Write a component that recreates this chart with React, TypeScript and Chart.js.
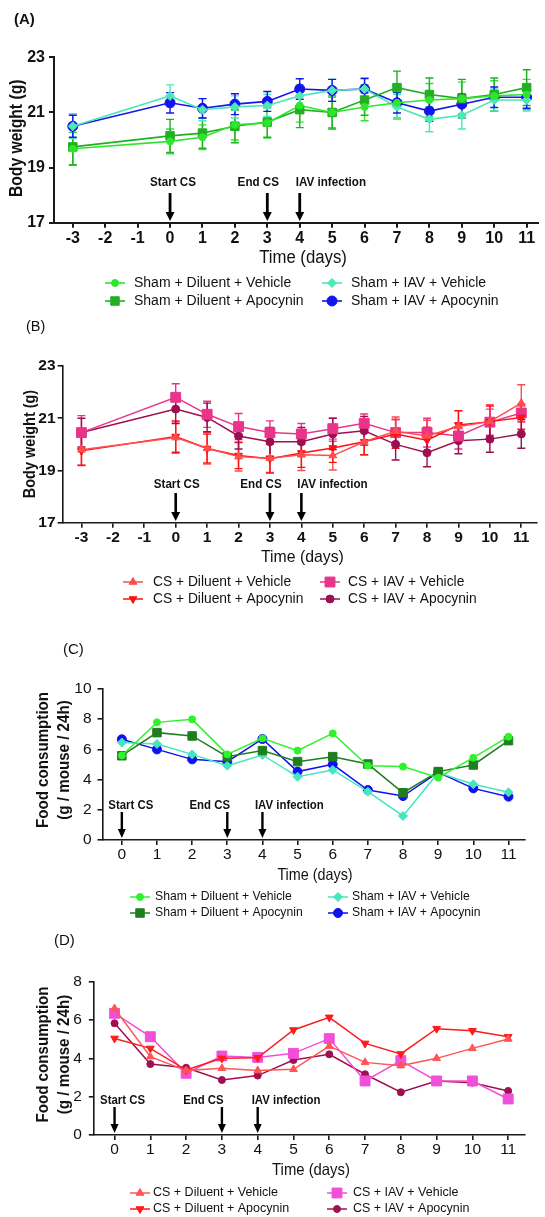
import React, { useEffect, useRef } from 'react';
import { Chart, registerables } from 'chart.js';
import { drawPoint } from 'chart.js/helpers';

Chart.register(...registerables);

// ---------------- DATA ----------------
const daysAB = [-3, 0, 1, 2, 3, 4, 5, 6, 7, 8, 9, 10, 11];
const daysCD = [0, 1, 2, 3, 4, 5, 6, 7, 8, 9, 10, 11];
const xTicksAB = [-3, -2, -1, 0, 1, 2, 3, 4, 5, 6, 7, 8, 9, 10, 11];
const xTicksCD = [0, 1, 2, 3, 4, 5, 6, 7, 8, 9, 10, 11];
const yTicksAB = [17, 19, 21, 23];
const yTicksC = [0, 2, 4, 6, 8, 10];
const yTicksD = [0, 2, 4, 6, 8];

const shamLabels = ['Sham + Diluent + Vehicle', 'Sham + Diluent + Apocynin', 'Sham + IAV + Vehicle', 'Sham + IAV + Apocynin'];
const csLabels = ['CS + Diluent + Vehicle', 'CS + Diluent + Apocynin', 'CS + IAV + Vehicle', 'CS + IAV + Apocynin'];
const eventDays = [0, 3, 4];
const eventLabels = ['Start CS', 'End CS', 'IAV infection'];

// Panel A: body weight, Sham groups (g)
const aDilVeh = [19.68, 19.95, 20.1, 20.55, 20.62, 21.25, 21.0, 21.2, 21.35, 21.45, 21.5, 21.6, 21.65];
const aDilApo = [19.75, 20.15, 20.25, 20.5, 20.65, 21.1, 21.0, 21.45, 21.9, 21.65, 21.5, 21.65, 21.9];
const aIavVeh = [20.5, 21.6, 21.1, 21.2, 21.25, 21.6, 21.8, 21.85, 21.2, 20.75, 20.9, 21.45, 21.45];
const aIavApo = [20.5, 21.35, 21.15, 21.3, 21.4, 21.85, 21.8, 21.85, 21.35, 21.05, 21.3, 21.55, 21.55];
const aErrDilVeh = [0.6, 0.45, 0.45, 0.55, 0.55, 0.6, 0.55, 0.5, 0.55, 0.6, 0.6, 0.55, 0.55];
const aErrDilApo = [0.65, 0.6, 0.55, 0.6, 0.55, 0.65, 0.6, 0.55, 0.6, 0.6, 0.7, 0.6, 0.65];
const aErrIavVeh = [0.45, 0.4, 0.4, 0.4, 0.4, 0.4, 0.4, 0.4, 0.45, 0.45, 0.5, 0.4, 0.4];
const aErrIavApo = [0.4, 0.37, 0.35, 0.38, 0.36, 0.37, 0.4, 0.38, 0.37, 0.37, 0.37, 0.37, 0.4];

// Panel B: body weight, CS groups (g)
const bDilVeh = [19.79, 20.26, 19.85, 19.53, 19.47, 19.6, 19.57, 20.1, 20.5, 20.32, 20.68, 20.87, 21.58];
const bDilApo = [19.75, 20.3, 19.84, 19.57, 19.45, 19.67, 19.86, 20.1, 20.4, 20.16, 20.74, 20.87, 21.03];
const bIavVeh = [20.45, 21.8, 21.15, 20.68, 20.45, 20.4, 20.6, 20.81, 20.45, 20.45, 20.32, 20.85, 21.2];
const bIavApo = [20.45, 21.35, 21.03, 20.32, 20.1, 20.1, 20.4, 20.52, 20.0, 19.68, 20.14, 20.2, 20.4];
const bErrDilVeh = [0.6, 0.6, 0.6, 0.55, 0.55, 0.6, 0.55, 0.5, 0.55, 0.6, 0.6, 0.65, 0.7];
const bErrDilApo = [0.55, 0.6, 0.55, 0.5, 0.55, 0.55, 0.55, 0.5, 0.55, 0.5, 0.55, 0.6, 0.45];
const bErrIavVeh = [0.65, 0.52, 0.5, 0.5, 0.45, 0.4, 0.4, 0.35, 0.5, 0.55, 0.5, 0.5, 0.35];
const bErrIavApo = [0.55, 0.55, 0.55, 0.5, 0.55, 0.55, 0.6, 0.55, 0.6, 0.54, 0.5, 0.5, 0.55];

// Panel C: food consumption, Sham groups (g / mouse / 24h)
const cDilVeh = [5.6, 7.79, 7.99, 5.67, 6.73, 5.92, 7.06, 4.92, 4.86, 4.13, 5.45, 6.84];
const cDilApo = [5.58, 7.11, 6.89, 5.52, 5.92, 5.19, 5.52, 5.03, 3.13, 4.53, 4.97, 6.58];
const cIavVeh = [6.45, 6.36, 5.67, 4.92, 5.63, 4.19, 4.64, 3.2, 1.59, 4.46, 3.69, 3.16];
const cIavApo = [6.67, 6.0, 5.34, 5.19, 6.69, 4.53, 5.01, 3.31, 2.91, 4.48, 3.42, 2.87];

// Panel D: food consumption, CS groups (g / mouse / 24h)
const dDilVeh = [6.6, 4.09, 3.36, 3.48, 3.36, 3.43, 4.64, 3.79, 3.62, 4.0, 4.52, 5.01];
const dDilApo = [5.04, 4.52, 3.39, 4.0, 4.03, 5.48, 6.14, 4.78, 4.23, 5.55, 5.44, 5.13];
const dIavVeh = [6.35, 5.13, 3.22, 4.12, 4.05, 4.26, 5.03, 2.82, 3.88, 2.82, 2.82, 1.88];
const dIavApo = [5.83, 3.7, 3.51, 2.87, 3.1, 3.91, 4.21, 3.17, 2.23, 2.82, 2.73, 2.3];

// ---------------- STYLE / LAYOUT ----------------
const W = 545;
const SANS = "'Liberation Sans', Arial, sans-serif";
const AXIS = '#1a1a1a';

type SeriesStyle = { color: string; pointStyle: string; radius: number; rotation?: number; lineWidth: number };
type PanelCfg = {
  top: number; height: number;
  area: { left: number; right: number; top: number; bottom: number };
  xMin: number; xMax: number; xTicks: number[];
  yMin: number; yMax: number; yTicks: number[];
  days: number[]; values: number[][]; errors?: number[][];
  labels: string[]; styles: SeriesStyle[];
  tickFont: { family: string; size: number; weight: string };
  xTickPad: number; yTickPad: number; axisWidth: number;
  xTitle: string; xTitleX: number; xTitleY: number; xTitleFont: string; xTitleSx: number;
  yTitle: string[]; yTitleX: number[]; yTitleY: number; yTitleFont: string; yTitleSx: number;
  panel: string; panelX: number; panelY: number; panelFont: string;
  legendRows: number[]; legendMarkerX: number[]; legendTextX: number[]; legendFont: string;
  evTextY: number; evArrowTop: number; evArrowBottom: number; evDx: number[]; evAlign: CanvasTextAlign[]; evFont: string; evSx: number;
  arrowW: number; arrowHead: number;
};

const panels: PanelCfg[] = [
  {
    top: 0, height: 310,
    area: { left: 54, right: 545, top: 57.3, bottom: 222.7 },
    xMin: -3.58, xMax: 11.35, xTicks: xTicksAB, yMin: 17, yMax: 23, yTicks: yTicksAB,
    days: daysAB, values: [aDilVeh, aDilApo, aIavVeh, aIavApo],
    errors: [aErrDilVeh, aErrDilApo, aErrIavVeh, aErrIavApo],
    labels: shamLabels,
    styles: [
      { color: '#2ee62e', pointStyle: 'circle', radius: 3.5, lineWidth: 1.6 },
      { color: '#22b022', pointStyle: 'rect', radius: 6, lineWidth: 1.6 },
      { color: '#4de8b8', pointStyle: 'rectRot', radius: 4.5, lineWidth: 1.6 },
      { color: '#1414f0', pointStyle: 'circle', radius: 5, lineWidth: 1.6 },
    ],
    tickFont: { family: SANS, size: 16, weight: 'bold' }, xTickPad: 1, yTickPad: 4, axisWidth: 2,
    xTitle: 'Time (days)', xTitleX: 303, xTitleY: 258, xTitleFont: `18px ${SANS}`, xTitleSx: 0.93,
    yTitle: ['Body weight (g)'], yTitleX: [17.4], yTitleY: 138.3, yTitleFont: `bold 18px ${SANS}`, yTitleSx: 0.87,
    panel: '(A)', panelX: 14, panelY: 20, panelFont: `bold 15px ${SANS}`,
    legendRows: [283, 301], legendMarkerX: [115, 332], legendTextX: [134, 351], legendFont: `14px ${SANS}`,
    evTextY: 183, evArrowTop: 193, evArrowBottom: 221, evDx: [3, -9, -4], evAlign: ['center', 'center', 'left'],
    evFont: `bold 12px ${SANS}`, evSx: 0.97, arrowW: 2.8, arrowHead: 4.5,
  },
  {
    top: 310, height: 310,
    area: { left: 62.6, right: 538.8, top: 56, bottom: 212.7 },
    xMin: -3.6, xMax: 11.5, xTicks: xTicksAB, yMin: 17, yMax: 23, yTicks: yTicksAB,
    days: daysAB, values: [bDilVeh, bDilApo, bIavVeh, bIavApo],
    errors: [bErrDilVeh, bErrDilApo, bErrIavVeh, bErrIavApo],
    labels: csLabels,
    styles: [
      { color: '#ff4d4d', pointStyle: 'triangle', radius: 4.5, lineWidth: 1.5 },
      { color: '#ff1111', pointStyle: 'triangle', radius: 4.5, rotation: 180, lineWidth: 1.5 },
      { color: '#e8358a', pointStyle: 'rect', radius: 7, lineWidth: 1.5 },
      { color: '#9c0f50', pointStyle: 'circle', radius: 4, lineWidth: 1.5 },
    ],
    tickFont: { family: SANS, size: 15.5, weight: 'bold' }, xTickPad: 1, yTickPad: 2, axisWidth: 1.6,
    xTitle: 'Time (days)', xTitleX: 302.4, xTitleY: 247, xTitleFont: `17px ${SANS}`, xTitleSx: 0.93,
    yTitle: ['Body weight (g)'], yTitleX: [30], yTitleY: 134, yTitleFont: `bold 17px ${SANS}`, yTitleSx: 0.85,
    panel: '(B)', panelX: 26, panelY: 17, panelFont: `14.5px ${SANS}`,
    legendRows: [272, 289], legendMarkerX: [133, 330], legendTextX: [153, 348], legendFont: `13.8px ${SANS}`,
    evTextY: 175, evArrowTop: 183, evArrowBottom: 211, evDx: [1, -9, -4], evAlign: ['center', 'center', 'left'],
    evFont: `bold 12px ${SANS}`, evSx: 0.97, arrowW: 2.6, arrowHead: 4.5,
  },
  {
    top: 620, height: 300,
    area: { left: 102.5, right: 525, top: 69, bottom: 220 },
    xMin: -0.55, xMax: 11.47, xTicks: xTicksCD, yMin: 0, yMax: 10, yTicks: yTicksC,
    days: daysCD, values: [cDilVeh, cDilApo, cIavVeh, cIavApo],
    labels: shamLabels,
    styles: [
      { color: '#2ef22e', pointStyle: 'circle', radius: 3.5, lineWidth: 1.5 },
      { color: '#1f7f1f', pointStyle: 'rect', radius: 6, lineWidth: 1.5 },
      { color: '#45e6bf', pointStyle: 'rectRot', radius: 4.5, lineWidth: 1.5 },
      { color: '#1010f0', pointStyle: 'circle', radius: 4.5, lineWidth: 1.5 },
    ],
    tickFont: { family: SANS, size: 15.5, weight: 'normal' }, xTickPad: 0, yTickPad: 6, axisWidth: 1.6,
    xTitle: 'Time (days)', xTitleX: 315, xTitleY: 255, xTitleFont: `16.5px ${SANS}`, xTitleSx: 0.87,
    yTitle: ['Food consumption', '(g / mouse / 24h)'], yTitleX: [43.4, 64.3], yTitleY: 140, yTitleFont: `bold 17px ${SANS}`, yTitleSx: 0.89,
    panel: '(C)', panelX: 63, panelY: 30, panelFont: `15px ${SANS}`,
    legendRows: [277, 293], legendMarkerX: [140, 338], legendTextX: [155, 352], legendFont: `12.2px ${SANS}`,
    evTextY: 186, evArrowTop: 192, evArrowBottom: 218, evDx: [9, -17.5, -7.5], evAlign: ['center', 'center', 'left'],
    evFont: `bold 12px ${SANS}`, evSx: 0.95, arrowW: 2.4, arrowHead: 4,
  },
  {
    top: 920, height: 297,
    area: { left: 93.8, right: 525, top: 61.7, bottom: 215 },
    xMin: -0.58, xMax: 11.47, xTicks: xTicksCD, yMin: 0, yMax: 8, yTicks: yTicksD,
    days: daysCD, values: [dDilVeh, dDilApo, dIavVeh, dIavApo],
    labels: csLabels,
    styles: [
      { color: '#ff5555', pointStyle: 'triangle', radius: 4.5, lineWidth: 1.5 },
      { color: '#ff1a1a', pointStyle: 'triangle', radius: 4.5, rotation: 180, lineWidth: 1.5 },
      { color: '#f24fd9', pointStyle: 'rect', radius: 7, lineWidth: 1.5 },
      { color: '#a01050', pointStyle: 'circle', radius: 3.5, lineWidth: 1.5 },
    ],
    tickFont: { family: SANS, size: 15.5, weight: 'normal' }, xTickPad: 0, yTickPad: 7, axisWidth: 1.6,
    xTitle: 'Time (days)', xTitleX: 311, xTitleY: 250, xTitleFont: `16.5px ${SANS}`, xTitleSx: 0.9,
    yTitle: ['Food consumption', '(g / mouse / 24h)'], yTitleX: [43.4, 64.3], yTitleY: 134.5, yTitleFont: `bold 17px ${SANS}`, yTitleSx: 0.89,
    panel: '(D)', panelX: 54, panelY: 21, panelFont: `15px ${SANS}`,
    legendRows: [273, 289], legendMarkerX: [140, 337], legendTextX: [153, 353], legendFont: `12.5px ${SANS}`,
    evTextY: 181, evArrowTop: 187, evArrowBottom: 213, evDx: [8, -18.5, -6], evAlign: ['center', 'center', 'left'],
    evFont: `bold 12px ${SANS}`, evSx: 0.95, arrowW: 2.4, arrowHead: 4,
  },
];

function scaledText(ctx: CanvasRenderingContext2D, text: string, x: number, y: number, sx: number, rot = 0, align: CanvasTextAlign = 'center') {
  ctx.save();
  ctx.translate(x, y);
  if (rot) ctx.rotate(rot);
  ctx.scale(sx, 1);
  ctx.textAlign = align;
  ctx.textBaseline = 'middle';
  ctx.fillText(text, 0, 0);
  ctx.restore();
}

function PanelChart({ cfg }: { cfg: PanelCfg }) {
  const ref = useRef<HTMLCanvasElement>(null);
  useEffect(() => {
    const canvas = ref.current;
    if (!canvas) return;
    const a = cfg.area;
    const xAxisH = 30;

    const errorBars = {
      id: 'errorBars',
      beforeDatasetsDraw(chart: any) {
        if (!cfg.errors) return;
        const { ctx } = chart;
        const xs = chart.scales.x;
        const ys = chart.scales.y;
        ctx.save();
        cfg.errors.forEach((errs, di) => {
          const st = cfg.styles[di];
          ctx.strokeStyle = st.color;
          ctx.lineWidth = 1.4;
          cfg.days.forEach((d, i) => {
            const v = cfg.values[di][i];
            const px = xs.getPixelForValue(d);
            const yt = ys.getPixelForValue(v + errs[i]);
            const yb = ys.getPixelForValue(v - errs[i]);
            const cap = 4;
            ctx.beginPath();
            ctx.moveTo(px, yt); ctx.lineTo(px, yb);
            ctx.moveTo(px - cap, yt); ctx.lineTo(px + cap, yt);
            ctx.moveTo(px - cap, yb); ctx.lineTo(px + cap, yb);
            ctx.stroke();
          });
        });
        ctx.restore();
      },
    };

    const decor = {
      id: 'decor',
      afterDraw(chart: any) {
        const { ctx } = chart;
        const xs = chart.scales.x;
        ctx.save();
        ctx.fillStyle = '#111';
        // panel label
        ctx.font = cfg.panelFont;
        ctx.textAlign = 'left';
        ctx.textBaseline = 'middle';
        ctx.fillText(cfg.panel, cfg.panelX, cfg.panelY);
        // x title
        ctx.font = cfg.xTitleFont;
        scaledText(ctx, cfg.xTitle, cfg.xTitleX, cfg.xTitleY, cfg.xTitleSx);
        // y title
        ctx.font = cfg.yTitleFont;
        cfg.yTitle.forEach((t, i) => {
          scaledText(ctx, t, cfg.yTitleX[i], cfg.yTitleY, cfg.yTitleSx, -Math.PI / 2);
        });
        // events
        eventDays.forEach((d, i) => {
          const px = xs.getPixelForValue(d);
          ctx.fillStyle = '#111';
          ctx.font = cfg.evFont;
          scaledText(ctx, eventLabels[i], px + cfg.evDx[i], cfg.evTextY, cfg.evSx, 0, cfg.evAlign[i]);
          const headH = 9;
          ctx.strokeStyle = '#000';
          ctx.lineWidth = cfg.arrowW;
          ctx.beginPath();
          ctx.moveTo(px, cfg.evArrowTop);
          ctx.lineTo(px, cfg.evArrowBottom - headH + 1);
          ctx.stroke();
          ctx.fillStyle = '#000';
          ctx.beginPath();
          ctx.moveTo(px - cfg.arrowHead, cfg.evArrowBottom - headH);
          ctx.lineTo(px + cfg.arrowHead, cfg.evArrowBottom - headH);
          ctx.lineTo(px, cfg.evArrowBottom);
          ctx.closePath();
          ctx.fill();
        });
        // legend
        ctx.font = cfg.legendFont;
        cfg.labels.forEach((lab, i) => {
          const col = Math.floor(i / 2);
          const row = i % 2;
          const st = cfg.styles[i];
          const mx = cfg.legendMarkerX[col];
          const my = cfg.legendRows[row];
          ctx.strokeStyle = st.color;
          ctx.fillStyle = st.color;
          ctx.lineWidth = st.lineWidth;
          ctx.beginPath();
          ctx.moveTo(mx - 10, my);
          ctx.lineTo(mx + 10, my);
          ctx.stroke();
          ctx.lineWidth = 1;
          drawPoint(ctx, { pointStyle: st.pointStyle as any, rotation: st.rotation || 0, radius: st.radius, borderWidth: 1 }, mx, my);
          ctx.fillStyle = '#111';
          ctx.textAlign = 'left';
          ctx.textBaseline = 'middle';
          ctx.fillText(lab, cfg.legendTextX[col], my);
        });
        ctx.restore();
      },
    };

    const datasets = cfg.values.map((vals, di) => {
      const st = cfg.styles[di];
      return {
        label: cfg.labels[di],
        data: cfg.days.map((d, i) => ({ x: d, y: vals[i] })),
        borderColor: st.color,
        backgroundColor: st.color,
        pointBackgroundColor: st.color,
        pointBorderColor: st.color,
        pointStyle: st.pointStyle as any,
        pointRadius: st.radius,
        pointRotation: st.rotation || 0,
        pointBorderWidth: 1,
        borderWidth: st.lineWidth,
        tension: 0,
        fill: false,
      };
    });

    const gridOpts = { display: true, drawOnChartArea: false, drawTicks: true, tickLength: 5, color: AXIS, lineWidth: cfg.axisWidth };
    const chart = new Chart(canvas, {
      type: 'line',
      data: { datasets },
      options: {
        responsive: false,
        animation: false,
        layout: { padding: { left: 0, right: W - a.right, top: a.top, bottom: cfg.height - a.bottom - xAxisH } },
        plugins: { legend: { display: false }, tooltip: { enabled: false }, title: { display: false } },
        scales: {
          x: {
            type: 'linear', min: cfg.xMin, max: cfg.xMax,
            afterBuildTicks: (s: any) => { s.ticks = cfg.xTicks.map((v) => ({ value: v })); },
            afterFit: (s: any) => { s.height = xAxisH; },
            grid: gridOpts,
            border: { display: true, color: AXIS, width: cfg.axisWidth },
            ticks: { font: cfg.tickFont as any, color: '#111', padding: cfg.xTickPad, maxRotation: 0, minRotation: 0, autoSkip: false, callback: (v: any) => String(v) },
          },
          y: {
            type: 'linear', min: cfg.yMin, max: cfg.yMax,
            afterBuildTicks: (s: any) => { s.ticks = cfg.yTicks.map((v) => ({ value: v })); },
            afterFit: (s: any) => { s.width = a.left; },
            grid: gridOpts,
            border: { display: true, color: AXIS, width: cfg.axisWidth },
            ticks: { font: cfg.tickFont as any, color: '#111', padding: cfg.yTickPad, autoSkip: false, callback: (v: any) => String(v) },
          },
        },
      },
      plugins: [errorBars, decor],
    });
    return () => chart.destroy();
  }, [cfg]);
  return (
    <canvas
      ref={ref}
      width={W}
      height={cfg.height}
      style={{ position: 'absolute', left: 0, top: cfg.top, width: W, height: cfg.height }}
    />
  );
}

export default function App() {
  return (
    <div style={{ position: 'absolute', left: 0, top: 0, width: W, height: 1217, background: '#fff', overflow: 'hidden' }}>
      {panels.map((p, i) => (
        <PanelChart key={i} cfg={p} />
      ))}
    </div>
  );
}
